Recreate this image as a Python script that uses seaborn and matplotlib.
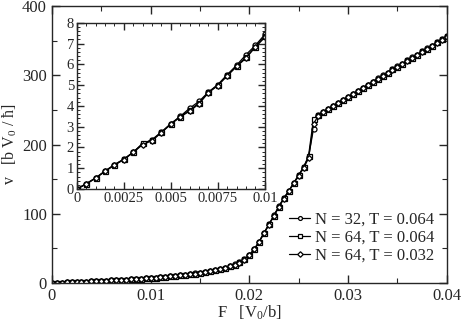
import numpy as np
import pandas as pd
import matplotlib
matplotlib.use('Agg')
import matplotlib.pyplot as plt
from matplotlib.ticker import MultipleLocator, FixedLocator, FixedFormatter
import seaborn as sns

# force grid, F [V0/b]
F = [0.0, 0.0005, 0.001, 0.0015, 0.002, 0.0025, 0.003, 0.0035, 0.004, 0.0045,
     0.005, 0.0055, 0.006, 0.0065, 0.007, 0.0075, 0.008, 0.0085, 0.009, 0.0095,
     0.01, 0.0105, 0.011, 0.0115, 0.012, 0.0125, 0.013, 0.0135, 0.014, 0.0145,
     0.015, 0.0155, 0.016, 0.0165, 0.017, 0.0175, 0.018, 0.0185, 0.019, 0.0195,
     0.02, 0.0205, 0.021, 0.0215, 0.022, 0.0225, 0.023, 0.0235, 0.024, 0.0245,
     0.025, 0.0255, 0.026, 0.0265, 0.027, 0.0275, 0.028, 0.0285, 0.029, 0.0295,
     0.03, 0.0305, 0.031, 0.0315, 0.032, 0.0325, 0.033, 0.0335, 0.034, 0.0345,
     0.035, 0.0355, 0.036, 0.0365, 0.037, 0.0375, 0.038, 0.0385, 0.039, 0.0395,
     0.04]

# velocity v [b V0 / hbar]
v_n32_t064 = [0, 0.26, 0.53, 0.87, 1.16, 1.43, 1.78, 2.18, 2.38, 2.75,
              3.15, 3.5, 3.89, 4.22, 4.67, 5.03, 5.51, 5.96, 6.47, 6.92,
              7.44, 7.95, 8.5, 9.1, 9.7, 10.4, 11.1, 11.9, 12.8, 13.8,
              14.9, 16.1, 17.4, 18.8, 20.4, 22.2, 24.3, 26.8, 29.8, 34.2,
              40.4, 49, 60, 73, 85, 98, 111, 123, 133, 145,
              156, 168, 182, 223, 243, 247, 251.5, 256, 260.5, 265,
              269, 273.5, 278, 282, 286.5, 291, 295.5, 300, 304, 308.5,
              313, 317, 321.5, 326, 330, 334.5, 339, 343, 347.5, 352,
              357]
v_n64_t064 = [0, 0.25, 0.54, 0.86, 1.18, 1.44, 1.77, 2.2, 2.35, 2.73,
              3.13, 3.49, 3.8, 4.15, 4.66, 5.0, 5.47, 5.92, 6.35, 6.86,
              7.35, 7.9, 8.45, 9.05, 9.7, 10.35, 11.05, 11.85, 12.75, 13.75,
              14.85, 16.0, 17.3, 18.7, 20.3, 22.1, 24.2, 26.7, 29.7, 34.0,
              40.2, 48.8, 60, 72.5, 85, 97.5, 110.5, 122.5, 133, 144.5,
              155.5, 167, 184, 237, 242.5, 247, 251.5, 256, 260.5, 264.5,
              269, 273.5, 278, 282, 286.5, 291, 295, 299.5, 304, 308.5,
              312.5, 317, 321.5, 325.5, 330, 334.5, 338.5, 343, 347.5, 352,
              356.5]
v_n64_t032 = [0, 0.24, 0.52, 0.85, 1.15, 1.42, 1.76, 2.14, 2.33, 2.72,
              3.12, 3.47, 3.75, 4.1, 4.64, 4.98, 5.45, 5.9, 6.3, 6.84,
              7.3, 7.88, 8.42, 9.0, 9.65, 10.3, 11.0, 11.8, 12.7, 13.7,
              14.8, 16.0, 17.2, 18.6, 20.2, 22.0, 24.1, 26.6, 29.6, 33.8,
              40.0, 48.5, 59.5, 72, 84.5, 97, 110, 122, 132.5, 144,
              155, 166.5, 180, 230, 242, 246.5, 251, 255.5, 260, 264.5,
              268.5, 273, 277.5, 281.5, 286, 290.5, 295, 299.5, 303.5, 308,
              312.5, 316.5, 321, 325.5, 329.5, 334, 338.5, 342.5, 347, 351.5,
              356]

labels = ['N = 32, T = 0.064', 'N = 64, T = 0.064', 'N = 64, T = 0.032']
markers = ['o', 's', 'D']
series = [v_n32_t064, v_n64_t064, v_n64_t032]

inset_xticks = [0, 0.0025, 0.005, 0.0075, 0.01]
inset_xticklabels = ['0', '0.0025', '0.005', '0.0075', '0.01']

sns.set_style('ticks')
plt.rcParams['font.family'] = ['Liberation Serif', 'DejaVu Serif']
plt.rcParams['mathtext.fontset'] = 'custom'
plt.rcParams['mathtext.rm'] = 'Liberation Serif'
plt.rcParams['mathtext.it'] = 'Liberation Serif:italic'
plt.rcParams['axes.linewidth'] = 1.0

fig = plt.figure(figsize=(4.63, 3.22), dpi=100)
ax = fig.add_axes([0.112, 0.121, 0.853, 0.860])
axin = fig.add_axes([0.166, 0.413, 0.406, 0.516])


def draw(a, ms, lw):
    for vals, mk, lab in zip(series, markers, labels):
        msz = ms * 0.8 if mk == 'D' else ms
        sns.lineplot(x=F, y=vals, ax=a, color='black', linewidth=lw,
                     marker=mk, markersize=msz, markerfacecolor='white',
                     markeredgecolor='black', markeredgewidth=0.9,
                     estimator=None, errorbar=None, label=lab, sort=False)


draw(ax, 3.6, 0.9)
ax.set_xlim(0, 0.04)
ax.set_ylim(0, 400)
ax.xaxis.set_major_locator(MultipleLocator(0.01))
ax.xaxis.set_minor_locator(MultipleLocator(0.005))
ax.yaxis.set_major_locator(MultipleLocator(100))
ax.yaxis.set_minor_locator(MultipleLocator(50))
ax.xaxis.set_major_formatter(plt.FuncFormatter(lambda x, p: f'{x:g}'))
ax.tick_params(which='both', direction='in', top=True, right=True, labelsize=12)
ax.tick_params(which='major', length=6, width=1)
ax.tick_params(which='minor', length=3.5, width=0.8)
ax.set_xlabel('F   [V$_0$/b]', fontsize=12, labelpad=0)
ax.set_ylabel('v   [b V$_0$ / ħ]', fontsize=11.5)
ax.yaxis.set_label_coords(-0.082, 0.5)
leg = ax.legend(loc='upper left', bbox_to_anchor=(0.6, 0.258), frameon=False,
                fontsize=12, handlelength=1.3, handletextpad=0.3,
                labelspacing=0.12, borderpad=0, borderaxespad=0)
for h in leg.legend_handles:
    h.set_markersize(2.8)

draw(axin, 3.6, 0.9)
axin.get_legend().remove()
axin.set_xlim(0, 0.01)
axin.set_ylim(0, 8)
axin.xaxis.set_major_locator(FixedLocator(inset_xticks))
axin.xaxis.set_major_formatter(FixedFormatter(inset_xticklabels))
axin.xaxis.set_minor_locator(MultipleLocator(0.0005))
axin.yaxis.set_major_locator(MultipleLocator(1))
axin.yaxis.set_minor_locator(MultipleLocator(0.2))
axin.tick_params(which='both', direction='in', top=True, right=True, labelsize=10.5, pad=2)
axin.tick_params(which='major', length=5, width=1)
axin.tick_params(which='minor', length=2.5, width=0.7)
axin.set_xlabel('')
axin.set_ylabel('')

fig.savefig('out.png', dpi=100)
